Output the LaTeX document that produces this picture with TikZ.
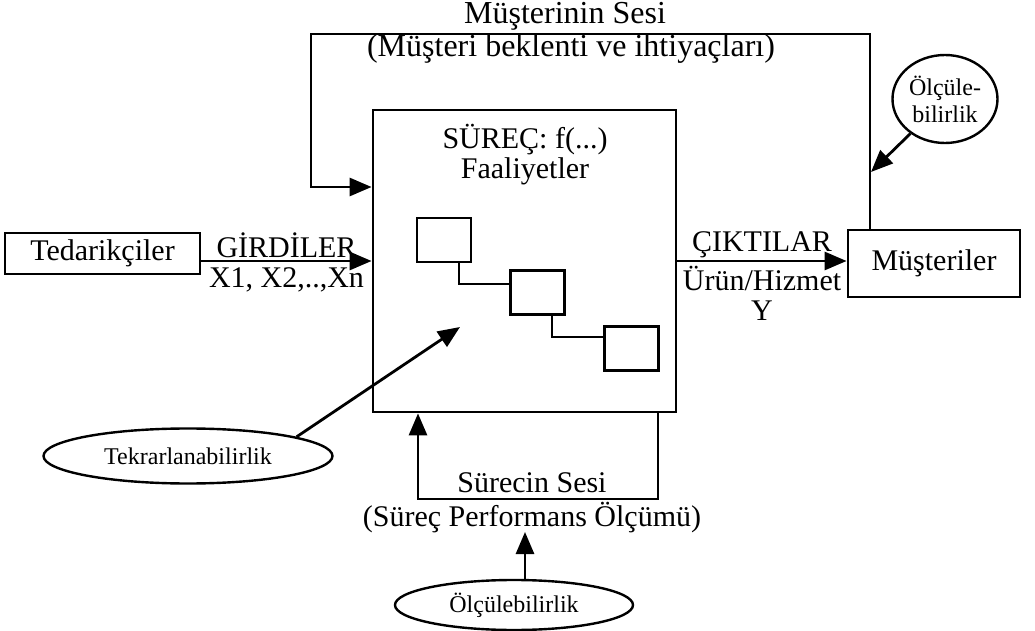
\documentclass[tikz,border=0pt]{standalone}
\usepackage{fontspec}
\setmainfont{Liberation Serif}
\usetikzlibrary{shapes.geometric}
\usetikzlibrary{arrows.meta}
\tikzstyle{kutu}=[rectangle,draw,line width=1.4pt,inner sep=0pt]
\tikzstyle{kucuk}=[rectangle,draw,line width=1.4pt,minimum width=27pt,minimum height=22pt]
\tikzstyle{oval}=[ellipse,draw,line width=1.2pt,inner sep=0pt,font=\fontsize{12}{13.5}\selectfont]
\tikzstyle{yazi}=[font=\fontsize{15}{15}\selectfont,inner sep=0pt]
\tikzstyle{buyuk}=[font=\fontsize{16}{16}\selectfont,inner sep=0pt]
\tikzstyle{ok}=[-{Triangle[length=11pt,width=9pt]},line width=1.4pt]
\tikzstyle{hat}=[line width=1.4pt]

\begin{document}
\begin{tikzpicture}[x=0.5pt,y=-0.5pt]
\useasboundingbox (0,0) rectangle (1035,631);
\node[kutu,yazi,minimum width=97.5pt,minimum height=20.5pt] (ted) at (102.5,253.5) {Tedarikçiler};
\node[kutu,minimum width=151.5pt,minimum height=151pt] (surec) at (524.5,261) {};
\node[kutu,yazi,minimum width=86pt,minimum height=33.5pt] (must) at (934,263.5) {Müşteriler};
\node[yazi,align=center] (baslik) at (525,155) {SÜREÇ: f(...)\\Faaliyetler};
% faaliyet kutulari
\node[kucuk] (f1) at (444,240) {};
\node[kucuk] (f2) at (537.5,292.5) {};
\node[kucuk] (f3) at (631.5,348.5) {};
\draw[hat] ([xshift=7.5pt]f1.south) |- ([yshift=4.25pt]f2.west);
\draw[hat] ([xshift=7.25pt]f2.south) |- ([yshift=5.75pt]f3.west);
% ovaller
\node[oval,minimum width=144.5pt,minimum height=27.5pt] (tekrar) at (188,456) {Tekrarlanabilirlik};
\node[oval,minimum width=119pt,minimum height=25pt] (olcum) at (514,605) {Ölçülebilirlik};
\node[oval,align=center,minimum width=52.5pt,minimum height=44pt] (olcu) at (945,99) {Ölçüle-\\bilirlik};
\coordinate (ust) at (311,34);
\coordinate (alt) at (418,499);
\coordinate (tekuc) at (460,327);
\coordinate (perf) at (525,532);
\coordinate (olcuuc) at (871,172);
% oklar
\draw[ok] (ted.east |- surec.west) -- (surec.west)
  node[midway,above,yazi,yshift=1pt]{GİRDİLER}
  node[midway,below,yazi,align=center,yshift=-2.5pt]{X1, X2,..,Xn};
\draw[ok] (surec.east) -- (must.west |- surec.east)
  node[midway,above,yazi,yshift=1pt]{ÇIKTILAR}
  node[midway,below,yazi,align=center,yshift=-2pt]{Ürün/Hizmet\\Y};
\draw[ok] ([xshift=-32pt]must.north) |- (ust) |- ([yshift=37pt]surec.west);
\draw[ok] ([xshift=66.75pt]surec.south) |- (alt) -- (alt |- surec.south);
\draw[ok] (tekrar.10) -- (tekuc);
\draw[ok] (olcum.north -| perf) -- (perf);
\draw[ok] (olcu.225) -- (olcuuc);
% etiketler
\node[buyuk] (msesi) at (565,16) {Müşterinin Sesi};
\node[buyuk] (mbek) at (571,49) {(Müşteri beklenti ve ihtiyaçları)};
\node[yazi] (ssesi) at (532,483) {Sürecin Sesi};
\node[yazi] (sperf) at (532,518) {(Süreç Performans Ölçümü)};
\end{tikzpicture}
\end{document}
